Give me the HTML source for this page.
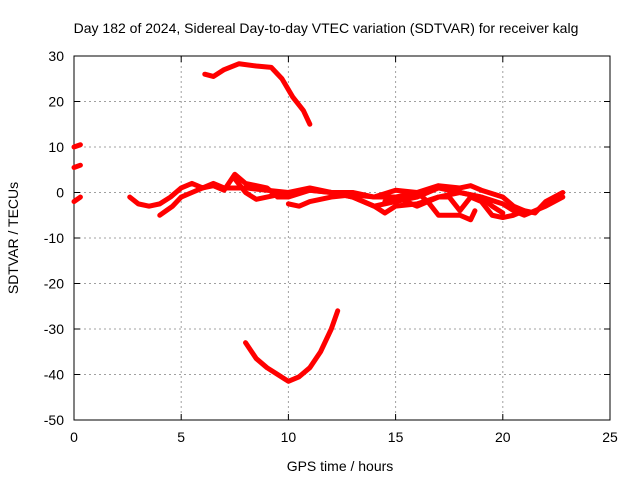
<!DOCTYPE html>
<html><head><meta charset="utf-8"><style>body{margin:0;background:#fff}svg{font-family:"Liberation Sans",sans-serif}</style></head>
<body>
<svg width="640" height="480">
<rect width="640" height="480" fill="#fff"/>
<g id="grid"></g>
<rect x="74" y="56" width="536" height="364" fill="none" stroke="#000"/>
<g id="ticks"></g>
<g id="series"></g>
<text x="326" y="33" text-anchor="middle" font-size="14">Day 182 of 2024, Sidereal Day-to-day VTEC variation (SDTVAR) for receiver kalg</text>
<text x="340" y="471" text-anchor="middle" font-size="14">GPS time / hours</text>
<text transform="translate(18,238) rotate(-90)" text-anchor="middle" font-size="14">SDTVAR / TECUs</text>
</svg>
<script>
const xTicks=[0,5,10,15,20,25];
const yTicks=[30,20,10,0,-10,-20,-30,-40,-50];
const seg1=[[0,10],[0.3,10.5]];
const seg2=[[0,5.5],[0.3,6]];
const seg3=[[0,-2],[0.3,-1]];
const topArc=[[6.1,26],[6.5,25.5],[7,27],[7.7,28.3],[8.5,27.8],[9.2,27.5],[9.7,25],[10.2,21],[10.7,18],[11,15]];
const bottomArc=[[8,-33],[8.5,-36.5],[9,-38.5],[9.5,-40],[10,-41.5],[10.5,-40.5],[11,-38.5],[11.5,-35],[12,-30],[12.3,-26]];
const band1=[[2.6,-1],[3,-2.5],[3.5,-3],[4,-2.5],[4.5,-1],[5,1],[5.5,2],[6,1],[6.5,2],[7,1],[8,1],[9,0.5],[10,0],[11,0.5],[12,0],[13,-1],[14,-3],[14.5,-4.5],[15,-3],[16,-2.5],[17,-1],[18,0],[19,-1],[20,-2.5],[20.5,-4],[21,-5],[22,-3],[22.8,-1]];
const band2=[[4,-5],[4.3,-4],[4.6,-3],[5,-1],[5.5,0],[6,1],[6.5,1.5],[7,0.5],[7.5,4],[8,2],[9,1],[9.5,-1],[10,-1],[11,0.5],[12,0],[13,0],[14,-1],[15,0.5],[16,0],[17,1.5],[18,1],[18.5,1.5],[19,0.5],[20,-1],[20.5,-3],[21,-4],[21.5,-4.5],[22,-2],[22.8,0]];
const band3=[[10,-2.5],[10.5,-3],[11,-2],[12,-1],[13,-0.5],[14,-1],[15,-1],[16,0],[16.5,-2],[17,-5],[18,-5],[18.5,-6],[18.7,-4]];
const band4=[[14.5,-2],[15,-1],[16,-3],[17,-1],[17.5,-1],[18,-4],[18.5,-1],[19,-2],[19.5,-5],[20,-5.5],[20.5,-5],[21,-4]];
const band5=[[7.5,3],[8,0],[8.5,-1.5],[9,-1],[10,0],[11,1],[12,0],[13,-1],[14,-3],[15,-2],[16,-1],[17,1],[18,0],[19,-1],[19.5,-3],[20,-4.5]];
const allSeries=[seg1,seg2,seg3,topArc,bottomArc,band1,band2,band3,band4,band5];
const NS="http://www.w3.org/2000/svg";
const X=h=>74+h*536/25, Y=v=>56+(30-v)*364/80;
function mk(t,a,p){const e=document.createElementNS(NS,t);for(const k in a)e.setAttribute(k,a[k]);p.appendChild(e);return e;}
const grid=document.getElementById('grid'),ticks=document.getElementById('ticks'),ser=document.getElementById('series');
xTicks.forEach(t=>{const x=X(t);
 if(t>0&&t<25){const g=mk('line',{x1:x,x2:x,y1:56,y2:420,stroke:'#a0a0a0','stroke-dasharray':'2,3'},grid);
 
 }
 mk('line',{x1:x,x2:x,y1:420,y2:414,stroke:'#000'},ticks);mk('line',{x1:x,x2:x,y1:56,y2:62,stroke:'#000'},ticks);
 const l=mk('text',{x:x,y:442,'text-anchor':'middle','font-size':14},ticks);l.textContent=t;
 
 });
yTicks.forEach(t=>{const y=Y(t);
 if(t<30&&t>-50){const g=mk('line',{x1:74,x2:610,y1:y,y2:y,stroke:'#a0a0a0','stroke-dasharray':'2,3'},grid);
 
 }
 mk('line',{x1:74,x2:80,y1:y,y2:y,stroke:'#000'},ticks);mk('line',{x1:610,x2:604,y1:y,y2:y,stroke:'#000'},ticks);
 const l=mk('text',{x:64,y:y+5,'text-anchor':'end','font-size':14},ticks);l.textContent=t;
 
 });
allSeries.forEach((s,i)=>{const p=mk('polyline',{points:s.map(d=>X(d[0])+','+Y(d[1])).join(' '),fill:'none',stroke:'#ff0000','stroke-width':5,'stroke-linejoin':'round','stroke-linecap':'round'},ser);
 
 });
</script>
</body></html>
